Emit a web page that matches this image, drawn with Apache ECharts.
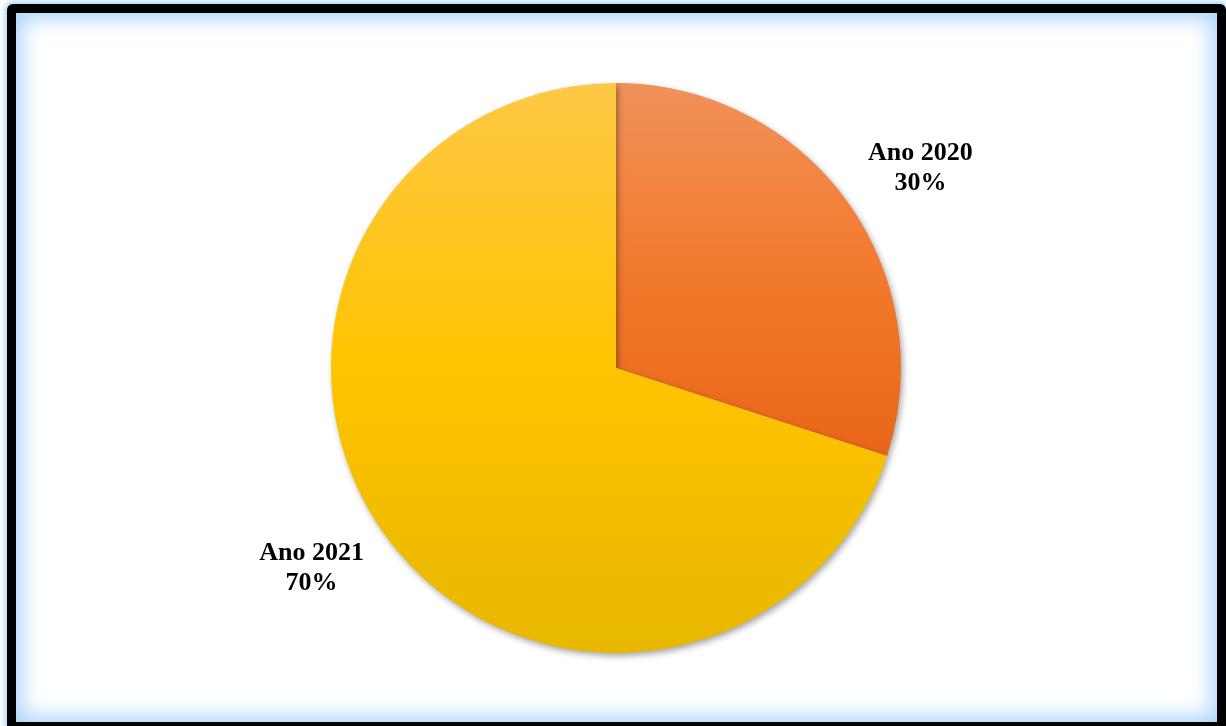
<!DOCTYPE html>
<html>
<head>
<meta charset="utf-8">
<title>Ano 2020 / Ano 2021</title>
<script src="https://cdn.jsdelivr.net/npm/echarts@6/dist/echarts.min.js"></script>
<style>
  html, body { margin: 0; padding: 0; width: 1226px; height: 726px; overflow: hidden; background: #ffffff; }
  #frame {
    position: absolute; left: 7px; top: 4px; right: 0; bottom: -5px;
    border: 9px solid #000; border-radius: 6px;
    box-shadow: 0 0 5px 3px #b7dbfc, inset 0 0 20px 6px #acd5fb;
    background: #ffffff;
  }
  #chart { position: absolute; left: 0; top: 0; width: 1226px; height: 726px; }
</style>
</head>
<body>
<div id="frame"></div>
<div id="chart"></div>
<script>
// Share of records per year
const categories = ['Ano 2020', 'Ano 2021'];
const values = [30, 70];

// light top, base middle, dark bottom
const sliceColors = [
  ['#f1915a', '#f27a2c', '#e8661a'],
  ['#ffc846', '#ffc400', '#e8b700']
];

const chart = echarts.init(document.getElementById('chart'), null, { renderer: 'canvas' });

const W = 1226, H = 726;
const cx = 616, cy = 368, R = 285;
const labelGap = 19;
const labelTurn = 2 * Math.PI / 180;
const total = values.reduce((a, b) => a + b, 0);

// Mid-angle of each slice, measured clockwise from 12 o'clock
function midAngle(i) {
  let before = 0;
  for (let k = 0; k < i; k++) before += values[k];
  return ((before + values[i] / 2) / total) * Math.PI * 2;
}

chart.setOption({
  backgroundColor: 'transparent',
  animation: false,
  series: [{
    type: 'pie',
    center: [cx / W * 100 + '%', cy / H * 100 + '%'],
    radius: R,
    startAngle: 90,
    clockwise: true,
    data: categories.map((name, i) => ({
      name,
      value: values[i],
      itemStyle: {
        color: new echarts.graphic.LinearGradient(0, 0, 0, 1, [
          { offset: 0, color: sliceColors[i][0] },
          { offset: 0.5, color: sliceColors[i][1] },
          { offset: 1, color: sliceColors[i][2] }
        ])
      }
    })),
    itemStyle: {
      borderWidth: 0,
      shadowBlur: 6,
      shadowOffsetX: 2,
      shadowOffsetY: 3,
      shadowColor: 'rgba(0,0,0,0.35)'
    },
    label: {
      show: true,
      position: 'outside',
      formatter: '{b}\n{d}%',
      fontFamily: 'Liberation Serif',
      fontWeight: 'bold',
      fontSize: 26,
      lineHeight: 30,
      color: '#000',
      align: 'center'
    },
    labelLine: { show: false },
    // place each label's nearest corner just outside the rim, beside its slice
    labelLayout: function (params) {
      const a = midAngle(params.dataIndex) + labelTurn;
      const dx = Math.sin(a), dy = -Math.cos(a);
      const px = cx + (R + labelGap) * dx;
      const py = cy + (R + labelGap) * dy;
      const w = params.labelRect.width, h = params.labelRect.height;
      return {
        x: px + (dx >= 0 ? w / 2 : -w / 2),
        y: py + (dy >= 0 ? h / 2 : -h / 2),
        align: 'center',
        verticalAlign: 'middle'
      };
    },
    emphasis: { disabled: true }
  }]
});
</script>
</body>
</html>
